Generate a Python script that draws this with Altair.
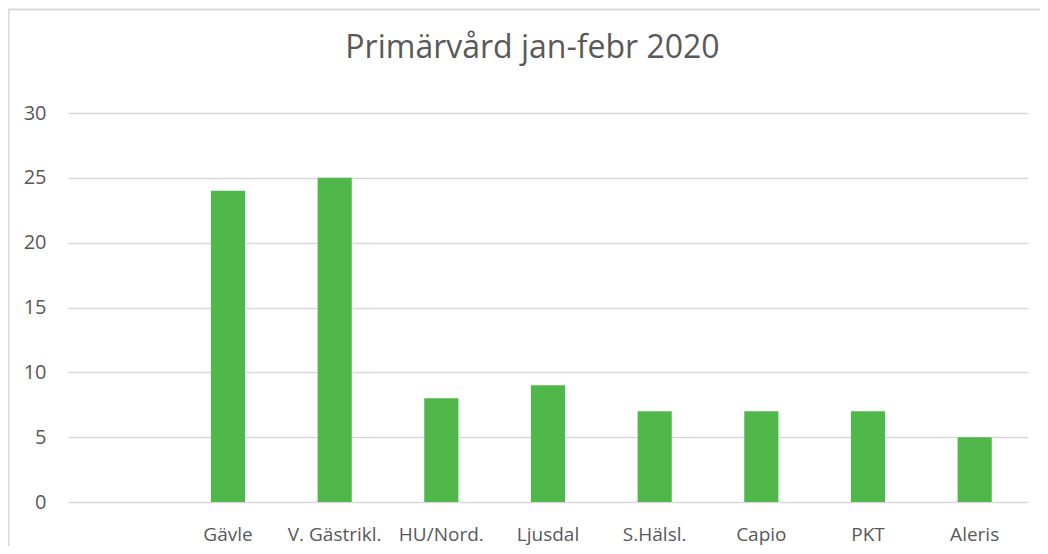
import altair as alt
import pandas as pd

categories = ["", "Gävle", "V. Gästrikl.", "HU/Nord.", "Ljusdal", "S.Hälsl.", "Capio", "PKT", "Aleris"]
values = [None, 24, 25, 8, 9, 7, 7, 7, 5]
y_ticks = [0, 5, 10, 15, 20, 25, 30]
title_text = ["Primärvård jan-febr 2020"]

df = pd.DataFrame({"cat": categories, "val": values})
tdf = pd.DataFrame({"t": title_text})

W, H = 960, 389
PAD = {"left": 60, "top": 105, "right": 12, "bottom": 44}
FONT = "Open Sans"
GREY = "#595959"

bars = alt.Chart(df).mark_bar(color="#50b84b").encode(
    x=alt.X("cat:N", sort=categories,
            scale=alt.Scale(domain=categories, paddingInner=0.68, paddingOuter=0.34),
            axis=alt.Axis(title=None, labelAngle=0, domain=False, ticks=False, grid=False,
                          labelPadding=23, labelFontSize=19, labelColor=GREY, labelFont=FONT)),
    y=alt.Y("val:Q", scale=alt.Scale(domain=[0, 30], nice=False),
            axis=alt.Axis(title=None, values=y_ticks, domain=False, ticks=False,
                          labelPadding=22, labelFontSize=20, labelColor=GREY, labelFont=FONT,
                          gridColor="#d9d9d9", gridWidth=1.5)),
)

title = alt.Chart(tdf).mark_text(font=FONT, fontSize=32, color=GREY, align="center",
                                 baseline="alphabetic").encode(
    text="t:N", x=alt.value(464.5), y=alt.value(-55)
)

border_top = alt.Chart(tdf).mark_rule(color="#d9d9d9", strokeWidth=2).encode(
    x=alt.value(-60), x2=alt.value(W + PAD["right"]), y=alt.value(-103.5)
)
border_left = alt.Chart(tdf).mark_rule(color="#d9d9d9", strokeWidth=2).encode(
    x=alt.value(-59.5), y=alt.value(-104), y2=alt.value(H + PAD["bottom"])
)

chart = alt.layer(bars, title, border_top, border_left).properties(
    width=W, height=H,
    padding=PAD,
    autosize=alt.AutoSizeParams(type="none"),
).configure_view(stroke=None)

chart.save("out.html", embed_options={"renderer": "svg", "actions": False})
